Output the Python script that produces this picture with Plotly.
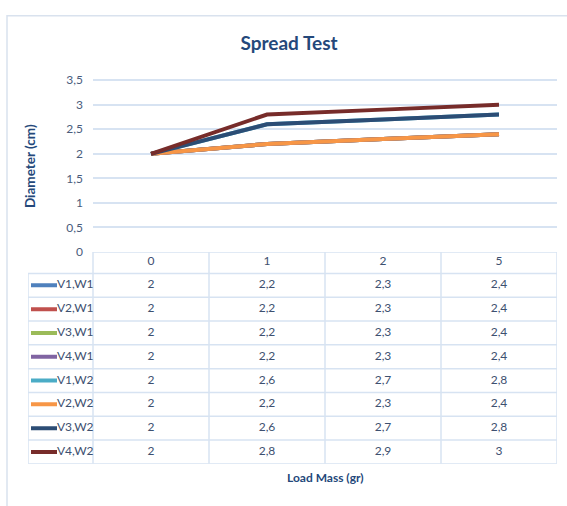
import plotly.graph_objects as go

# ---- data -------------------------------------------------------------
loads = ["0", "1", "2", "5"]  # load mass (gr)
series_names = ["V1,W1", "V2,W1", "V3,W1", "V4,W1",
                "V1,W2", "V2,W2", "V3,W2", "V4,W2"]
v1_w1 = [2, 2.2, 2.3, 2.4]
v2_w1 = [2, 2.2, 2.3, 2.4]
v3_w1 = [2, 2.2, 2.3, 2.4]
v4_w1 = [2, 2.2, 2.3, 2.4]
v1_w2 = [2, 2.6, 2.7, 2.8]
v2_w2 = [2, 2.2, 2.3, 2.4]
v3_w2 = [2, 2.6, 2.7, 2.8]
v4_w2 = [2, 2.8, 2.9, 3]
series_values = [v1_w1, v2_w1, v3_w1, v4_w1, v1_w2, v2_w2, v3_w2, v4_w2]
series_colors = ["#4F81BD", "#C0504D", "#9BBB59", "#8064A2",
                 "#4BACC6", "#F79646", "#2C4D75", "#772C2A"]
y_max = 3.5

# ---- layout constants (pixels) ---------------------------------------
W, H = 567, 506
PLOT_L, PLOT_R = 93, 557          # plot area / value columns
PLOT_T, PLOT_B = 77, 253          # value axis extent (top = y_max, bottom = 0)
PAD = 3                            # keeps the top gridline inside the plot
LEG_L = 28                         # left edge of the legend column
TABLE_B = 470                      # bottom of the data table
COL_W = (PLOT_R - PLOT_L) / len(loads)
UNIT = (PLOT_B - PLOT_T) / y_max   # pixels per cm

GRID = "#d7e3f2"
TEXT = "#3d5070"
TITLE = "#24487a"
FONT = "Lato"


def px_x(p):
    return p / W


def px_y(p):
    return 1 - p / H


def fmt(v):
    return f"{v:g}".replace(".", ",")


fig = go.Figure()

# ---- lines ------------------------------------------------------------
for name, vals, color in zip(series_names, series_values, series_colors):
    fig.add_trace(go.Scatter(
        x=loads, y=vals, name=name, mode="lines",
        line=dict(color=color, width=4),
        xaxis="x", yaxis="y", hoverinfo="skip",
    ))

# ---- data table under the chart --------------------------------------
n_rows = len(series_names)
col_idx = list(range(len(loads)))
tab_x0 = -0.5 - (PLOT_L - LEG_L) / COL_W
key_x0 = -0.5 - (PLOT_L - 31) / COL_W
key_x1 = -0.5 - (PLOT_L - 57) / COL_W
HEAD_TOP = -0.4

# header row (categories)
fig.add_trace(go.Scatter(
    x=col_idx, y=[0] * len(loads), text=loads, mode="text",
    textfont=dict(family=FONT, size=12, color=TEXT),
    xaxis="x2", yaxis="y2", hoverinfo="skip",
))

for i, (name, vals, color) in enumerate(zip(series_names, series_values, series_colors)):
    row = i + 1
    # legend key
    fig.add_trace(go.Scatter(
        x=[key_x0, key_x1], y=[row, row], mode="lines",
        line=dict(color=color, width=4),
        xaxis="x2", yaxis="y2", hoverinfo="skip",
    ))
    fig.add_trace(go.Scatter(
        x=[key_x1], y=[row], text=[name],
        mode="text", textposition="middle right",
        textfont=dict(family=FONT, size=12, color=TEXT),
        xaxis="x2", yaxis="y2", hoverinfo="skip",
    ))
    # values
    fig.add_trace(go.Scatter(
        x=col_idx, y=[row] * len(vals), text=[fmt(v) for v in vals],
        mode="text", textfont=dict(family=FONT, size=12, color=TEXT),
        xaxis="x2", yaxis="y2", hoverinfo="skip",
    ))

border = dict(color=GRID, width=1.5)
shapes = []
# vertical cell borders of the value columns
for k in range(len(loads) + 1):
    shapes.append(dict(type="line", xref="x2", yref="y2",
                       x0=k - 0.5, x1=k - 0.5, y0=HEAD_TOP, y1=n_rows + 0.5,
                       line=border, layer="below"))
# left border of legend column
shapes.append(dict(type="line", xref="x2", yref="y2",
                   x0=tab_x0, x1=tab_x0, y0=0.5, y1=n_rows + 0.5,
                   line=border, layer="below"))
# top border of the header row
shapes.append(dict(type="line", xref="x2", yref="y2",
                   x0=-0.5, x1=len(loads) - 0.5, y0=HEAD_TOP, y1=HEAD_TOP,
                   line=border, layer="below"))
# horizontal row borders
for r in range(n_rows + 1):
    shapes.append(dict(type="line", xref="x2", yref="y2",
                       x0=tab_x0, x1=len(loads) - 0.5, y0=r + 0.5, y1=r + 0.5,
                       line=border, layer="below"))
# chart frame
shapes.append(dict(type="rect", xref="paper", yref="paper",
                   x0=px_x(7), x1=1.05, y0=-0.05, y1=px_y(11),
                   line=dict(color="#d9e2ee", width=1.5), layer="below"))

fig.update_layout(
    width=W, height=H,
    margin=dict(l=0, r=0, t=0, b=0),
    paper_bgcolor="white", plot_bgcolor="white",
    showlegend=False,
    separators=",.",
    font=dict(family=FONT, color=TEXT),
    title=dict(text="<b>Spread Test</b>", x=px_x(289), xanchor="center",
               y=px_y(43), yanchor="middle",
               font=dict(family=FONT, size=19, color=TITLE)),
    xaxis=dict(type="category", categoryorder="array", categoryarray=loads,
               range=[-0.5, len(loads) - 0.5],
               domain=[px_x(PLOT_L), px_x(PLOT_R)], anchor="y",
               showticklabels=False, showgrid=False, zeroline=False,
               showline=False),
    yaxis=dict(range=[0, y_max + PAD / UNIT], tick0=0, dtick=0.5,
               domain=[px_y(PLOT_B), px_y(PLOT_T - PAD)], anchor="x",
               showgrid=True, gridcolor=GRID, gridwidth=1.5,
               zeroline=False, showline=False, ticks="",
               ticklabelstandoff=9,
               tickfont=dict(family=FONT, size=12, color="#4a5c7c")),
    xaxis2=dict(range=[tab_x0, len(loads) - 0.5],
                domain=[px_x(LEG_L), px_x(PLOT_R)], anchor="y2",
                visible=False),
    yaxis2=dict(range=[n_rows + 0.5, HEAD_TOP],
                domain=[px_y(TABLE_B), px_y(PLOT_B)], anchor="x2",
                visible=False),
    shapes=shapes,
    annotations=[
        dict(text="<b>Diameter (cm)</b>", xref="paper", yref="paper",
             x=px_x(30), y=px_y((PLOT_T + PLOT_B) / 2), textangle=-90,
             showarrow=False, xanchor="center", yanchor="middle",
             font=dict(family=FONT, size=13.5, color=TITLE)),
        dict(text="<b>Load Mass (gr)</b>", xref="paper", yref="paper",
             x=px_x((PLOT_L + PLOT_R) / 2), y=px_y(484),
             showarrow=False, xanchor="center", yanchor="middle",
             font=dict(family=FONT, size=12, color=TITLE)),
    ],
)

fig.write_html("out.html")
